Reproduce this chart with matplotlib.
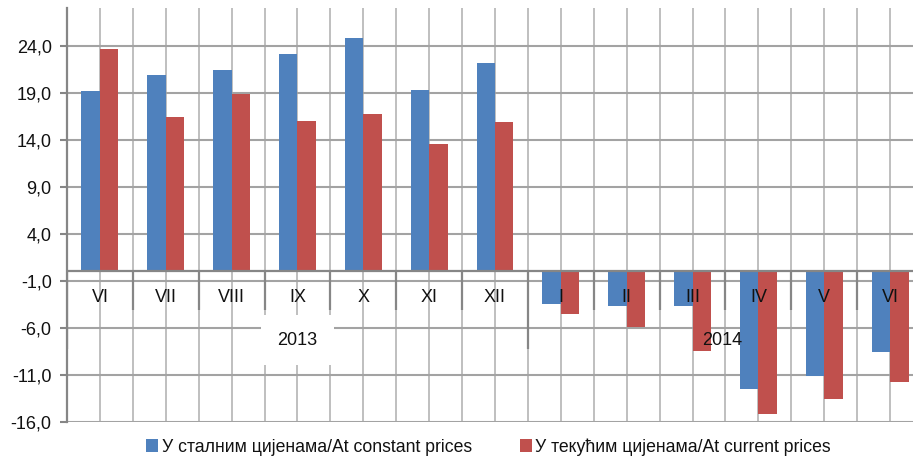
import matplotlib
matplotlib.use("Agg")
import matplotlib.pyplot as plt

plt.rcParams['font.family'] = ['Liberation Sans Narrow', 'Liberation Sans', 'DejaVu Sans']

months = ["VI", "VII", "VIII", "IX", "X", "XI", "XII", "I", "II", "III", "IV", "V", "VI"]
years = ["2013", "2014"]
year_counts = [7, 6]
constant = [19.2, 20.9, 21.4, 23.1, 24.8, 19.3, 22.2, -3.5, -3.7, -3.7, -12.5, -11.1, -8.6]
current = [23.6, 16.4, 18.9, 16.0, 16.7, 13.5, 15.9, -4.5, -5.9, -8.5, -15.2, -13.6, -11.8]
yticks = [-16, -11, -6, -1, 4, 9, 14, 19, 24]
legend_labels = ["У сталним цијенама/At constant prices", "У текућим цијенама/At current prices"]

blue = "#4F81BD"
red = "#C0504D"

W, H = 913, 459
fig = plt.figure(figsize=(W / 100, H / 100), dpi=100)
left_px, right_px, top_px, bot_px = 67, 923, 8, 422
ax = fig.add_axes([left_px / W, 1 - bot_px / H, (right_px - left_px) / W, (bot_px - top_px) / H])
ax.set_xlim(-0.5, len(months) - 0.5)
ax.set_ylim(-16, 28)

n = len(months)
x = list(range(n))
bw = 0.28

# vertical gridlines (every half category)
for k in range(1, 2 * n + 1):
    xv = -0.5 + 0.5 * k
    ax.axvline(xv, color="#BFBFBF", lw=1.4, zorder=0)

# horizontal gridlines
for t in yticks:
    ax.axhline(t, color="#A3A3A3", lw=1.5, zorder=0.5)

ax.bar([i - bw / 2 for i in x], constant, width=bw, color=blue, zorder=2, label=legend_labels[0])
ax.bar([i + bw / 2 for i in x], current, width=bw, color=red, zorder=2, label=legend_labels[1])

# category axis at zero
ax.axhline(0, color="#868686", lw=1.6, zorder=3)
bounds = [-0.5]
acc = -0.5
for c in year_counts:
    acc += c
    bounds.append(acc)
group_bounds = set(bounds)
for k in range(n + 1):
    xb = -0.5 + k
    depth = -8.2 if xb in group_bounds else -4.1
    ax.plot([xb, xb], [0, depth], color="#868686", lw=1.6, zorder=3, solid_capstyle="butt")

for i, m in enumerate(months):
    ax.text(i, -2.75, m, ha="center", va="center", fontsize=13, color="#111111", zorder=4)

start = -0.5
for yr, c in zip(years, year_counts):
    cx = start + c / 2
    if yr == years[0]:
        ax.text(cx, -7.3, yr, ha="center", va="center", fontsize=13, color="#111111", zorder=4,
                bbox=dict(boxstyle="square,pad=0.9", fc="white", ec="none"))
    else:
        ax.text(cx - 0.05, -7.3, yr, ha="center", va="center", fontsize=13, color="#111111", zorder=4)
    start += c

ax.set_yticks(yticks)
ax.set_yticklabels([f"{t:.1f}".replace(".", ",") for t in yticks], fontsize=13, color="#111111")
ax.set_xticks([])
for s in ["top", "right", "bottom"]:
    ax.spines[s].set_visible(False)
ax.spines["left"].set_color("#868686")
ax.spines["left"].set_linewidth(1.6)
ax.spines["left"].set_zorder(3)
ax.tick_params(axis="y", length=5, width=1.5, color="#868686", pad=6)

fig.legend(loc="center", bbox_to_anchor=(0.535, 0.026), ncol=2, frameon=False, fontsize=12.7,
           handlelength=0.7, handleheight=0.7, handletextpad=0.2, columnspacing=2.7,
           labelcolor="#111111")

fig.savefig("out.png", dpi=100)
